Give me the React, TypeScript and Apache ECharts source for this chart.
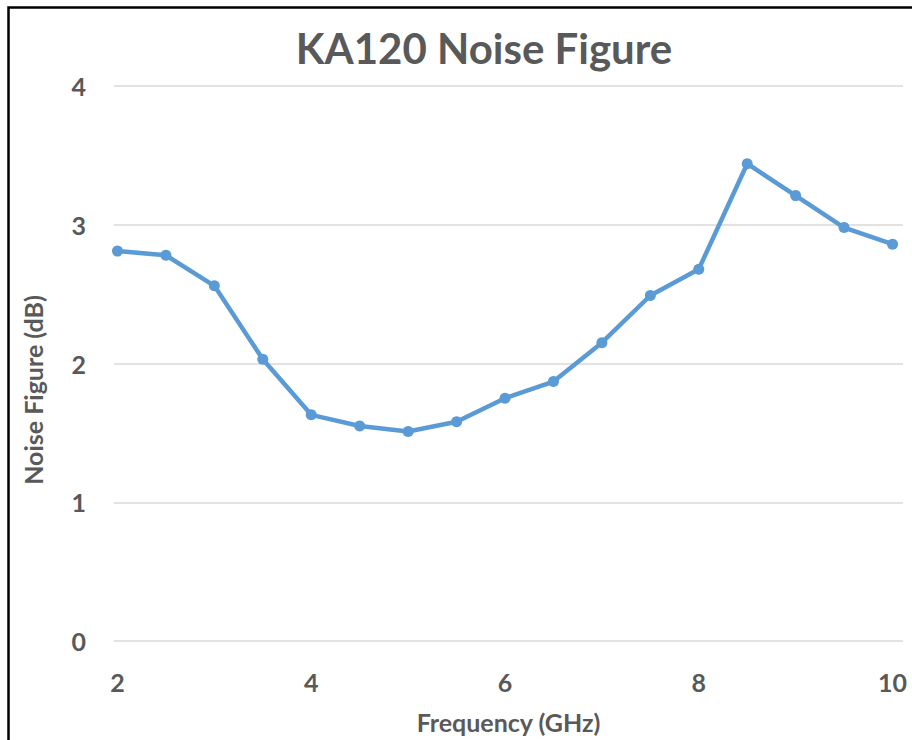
import React, { useEffect, useRef } from "react";
import * as echarts from "echarts";

const frequencies = [2, 2.5, 3, 3.5, 4, 4.5, 5, 5.5, 6, 6.5, 7, 7.5, 8, 8.5, 9, 9.5, 10];
const noiseFigure = [2.81, 2.78, 2.56, 2.03, 1.63, 1.55, 1.51, 1.58, 1.75, 1.87, 2.15, 2.49, 2.68, 3.44, 3.21, 2.98, 2.86];
const xTickLabels = [2, 4, 6, 8, 10];
const titleText = "KA120 Noise Figure";
const xAxisTitle = "Frequency (GHz)";
const yAxisTitle = "Noise Figure (dB)";

const FONT = "Lato, 'Open Sans', sans-serif";
const GRAY = "#595959";

export default function App() {
  const ref = useRef<HTMLDivElement>(null);
  useEffect(() => {
    document.body.style.margin = "0";
    const chart = echarts.init(ref.current!, null, { renderer: "svg" });
    chart.setOption({
      animation: false,
      backgroundColor: "#ffffff",
      graphic: [
        {
          type: "rect",
          shape: { x: 8.5, y: 7.5, width: 1000, height: 1000 },
          style: { fill: "none", stroke: "#000000", lineWidth: 2.5 },
          silent: true,
        },
        {
          type: "text",
          x: 484,
          y: 48,
          style: {
            text: titleText,
            fontFamily: FONT,
            fontWeight: "bold",
            fontSize: 42,
            fill: GRAY,
            textAlign: "center",
            textVerticalAlign: "middle",
          },
        },
        {
          type: "text",
          x: 33,
          y: 390,
          rotation: Math.PI / 2,
          style: {
            text: yAxisTitle,
            fontFamily: FONT,
            fontWeight: "bold",
            fontSize: 25,
            fill: GRAY,
            textAlign: "center",
            textVerticalAlign: "middle",
          },
        },
      ],
      grid: { left: 114, right: 9, top: 86, bottom: 99, containLabel: false },
      xAxis: {
        type: "value",
        min: 1.964,
        max: 10.108,
        name: xAxisTitle,
        nameLocation: "middle",
        nameGap: 68,
        nameTextStyle: { fontFamily: FONT, fontWeight: "bold", fontSize: 25, color: GRAY },
        axisLine: { show: false },
        axisTick: { show: false },
        splitLine: { show: false },
        axisLabel: {
          customValues: xTickLabels,
          margin: 28,
          fontFamily: FONT,
          fontWeight: "bold",
          fontSize: 25,
          color: GRAY,
        },
      },
      yAxis: {
        type: "value",
        min: 0,
        max: 4,
        interval: 1,
        axisLine: { show: false },
        axisTick: { show: false },
        splitLine: { lineStyle: { color: "#d9d9d9", width: 1.5 } },
        axisLabel: {
          margin: 28,
          fontFamily: FONT,
          fontWeight: "bold",
          fontSize: 25,
          color: GRAY,
        },
      },
      series: [
        {
          type: "line",
          data: frequencies.map((f, i) => [f, noiseFigure[i]]),
          symbol: "circle",
          symbolSize: 11,
          lineStyle: { color: "#5B9BD5", width: 4.5 },
          itemStyle: { color: "#5B9BD5" },
        },
      ],
    });
    return () => chart.dispose();
  }, []);
  return <div ref={ref} style={{ position: "absolute", left: 0, top: 0, width: 912, height: 740 }} />;
}
